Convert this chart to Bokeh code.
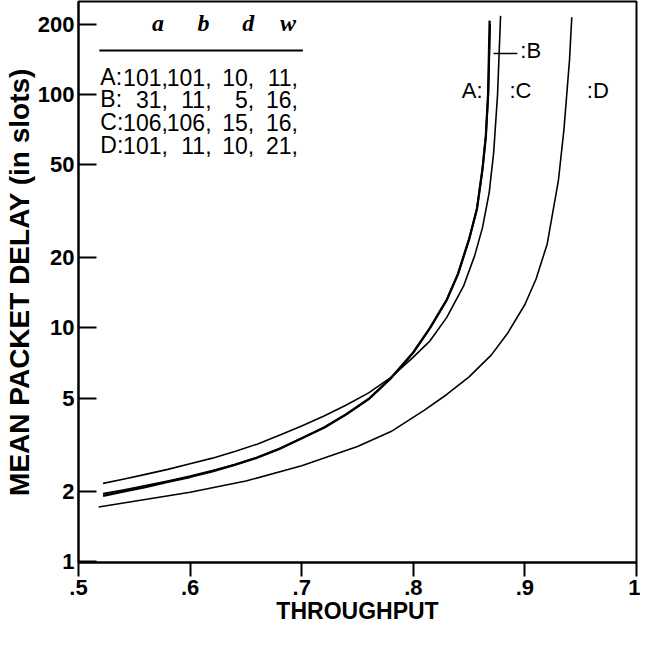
from bokeh.plotting import figure
from bokeh.models import FixedTicker, Label
from bokeh.embed import file_html
from bokeh.resources import INLINE

# ---------------- data ----------------
x_ticks = [0.5, 0.6, 0.7, 0.8, 0.9, 1.0]
x_tick_labels = [".5", ".6", ".7", ".8", ".9", "1"]
y_ticks = [1, 2, 5, 10, 20, 50, 100, 200]
y_tick_labels = ["1", "2", "5", "10", "20", "50", "100", "200"]

a_thr = [0.522, 0.54, 0.56, 0.58, 0.60, 0.62, 0.64, 0.66, 0.68, 0.70, 0.72, 0.74,
         0.76, 0.78, 0.80, 0.815, 0.83, 0.84, 0.85, 0.857, 0.862, 0.865, 0.867, 0.8684]
a_delay = [1.91, 1.99, 2.08, 2.19, 2.30, 2.43, 2.59, 2.78, 3.03, 3.37, 3.74, 4.27,
           4.96, 6.10, 7.85, 10.0, 13.2, 17.0, 24.0, 32.3, 47.9, 66.1, 100.0, 207.0]

b_thr = [0.522, 0.54, 0.56, 0.58, 0.60, 0.62, 0.64, 0.66, 0.68, 0.70, 0.72, 0.74,
         0.76, 0.78, 0.80, 0.815, 0.83, 0.84, 0.85, 0.857, 0.862, 0.865, 0.8672, 0.8688]
b_delay = [1.95, 2.02, 2.11, 2.21, 2.32, 2.45, 2.60, 2.79, 3.04, 3.37, 3.75, 4.27,
           4.96, 6.10, 7.86, 10.0, 13.2, 17.0, 24.0, 32.3, 48.0, 66.5, 101.0, 200.0]

c_thr = [0.522, 0.54, 0.56, 0.58, 0.60, 0.62, 0.64, 0.66, 0.68, 0.70, 0.72, 0.74,
         0.76, 0.78, 0.80, 0.815, 0.83, 0.845, 0.855, 0.862, 0.868, 0.872, 0.8755, 0.8782]
c_delay = [2.16, 2.25, 2.36, 2.48, 2.62, 2.77, 2.96, 3.18, 3.47, 3.80, 4.20, 4.68,
           5.27, 6.14, 7.50, 8.81, 11.1, 15.1, 20.4, 26.9, 38.0, 56.2, 100.0, 217.0]

d_thr = [0.518, 0.55, 0.60, 0.65, 0.70, 0.75, 0.78, 0.81, 0.83, 0.85, 0.87, 0.885,
         0.90, 0.91, 0.92, 0.93, 0.935, 0.94, 0.942]
d_delay = [1.71, 1.81, 1.98, 2.21, 2.57, 3.11, 3.60, 4.45, 5.19, 6.17, 7.67, 9.57,
           12.6, 16.2, 22.9, 42.7, 70.8, 141.0, 214.0]

series_names = ["A", "B", "C", "D"]
param_a = [101, 31, 106, 101]
param_b = [101, 11, 106, 11]
param_d = [10, 5, 15, 10]
param_w = [11, 16, 16, 21]
header = ["a", "b", "d", "w"]

# --------------- layout helpers (page px -> data coords, annotations only) ---------------
def dx(xp):
    return 0.5 + (xp - 82) / 1124.0

def dy(yp):
    return 10 ** ((569 - yp) / 233.5)

SANS = "Liberation Sans"
SERIF = "Liberation Serif"

p = figure(width=640, height=629, y_axis_type="log",
           x_range=(0.5, 1.0), y_range=(0.99, 250),
           output_backend="svg", toolbar_location=None,
           min_border_left=74, min_border_right=4,
           min_border_top=1, min_border_bottom=67)

p.xgrid.visible = False
p.ygrid.visible = False
p.outline_line_color = "black"
p.outline_line_width = 2
p.outline_line_alpha = 1.0
p.background_fill_color = "white"
p.border_fill_color = "white"

# x axis
xa = p.xaxis[0]
xa.ticker = FixedTicker(ticks=x_ticks)
xa.major_label_overrides = dict(zip(x_ticks, x_tick_labels))
xa.major_tick_in = 0
xa.major_tick_out = 14
xa.minor_tick_in = 0
xa.minor_tick_out = 0
xa.axis_line_width = 2
xa.major_tick_line_width = 2
xa.major_label_text_font = SANS
xa.major_label_text_font_size = "22px"
xa.major_label_text_font_style = "bold"
xa.major_label_text_color = "black"
xa.major_label_standoff = 3
xa.axis_label = "THROUGHPUT"
xa.axis_label_text_font = SANS
xa.axis_label_text_font_size = "23px"
xa.axis_label_text_font_style = "bold"
xa.axis_label_text_color = "black"
xa.axis_label_standoff = 0

# y axis
ya = p.yaxis[0]
ya.ticker = FixedTicker(ticks=y_ticks, minor_ticks=[])
ya.major_label_overrides = dict(zip(y_ticks, y_tick_labels))
ya.major_tick_in = 18
ya.major_tick_out = 0
ya.minor_tick_in = 0
ya.minor_tick_out = 0
ya.axis_line_width = 2
ya.major_tick_line_width = 2
ya.major_label_text_font = SANS
ya.major_label_text_font_size = "22px"
ya.major_label_text_font_style = "bold"
ya.major_label_text_color = "black"
ya.major_label_standoff = 4
ya.axis_label = "MEAN PACKET DELAY (in slots)"
ya.axis_label_text_font = SANS
ya.axis_label_text_font_size = "28px"
ya.axis_label_text_font_style = "bold"
ya.axis_label_text_color = "black"
ya.axis_label_standoff = 0

# curves
p.line(a_thr, a_delay, line_color="black", line_width=2.3, line_join="round")
p.line(b_thr, b_delay, line_color="black", line_width=1.9, line_join="round")
p.line(c_thr, c_delay, line_color="black", line_width=1.6, line_join="round")
p.line(d_thr, d_delay, line_color="black", line_width=1.6, line_join="round")

# text helper
def add_label(text, xp, yp, align, size="22px", font=SANS, style="normal"):
    p.add_layout(Label(x=dx(xp), y=dy(yp), text=text, text_align=align,
                       text_baseline="middle", text_font=font,
                       text_font_size=size, text_font_style=style,
                       text_color="black"))

# curve labels
add_label("A:", 489, 98, "right")
add_label(":C", 516, 98, "left")
add_label(":D", 594, 98, "left")
add_label(":B", 527, 58, "left")
p.segment(x0=[dx(500)], y0=[dy(61)], x1=[dx(524)], y1=[dy(61)],
          line_color="black", line_width=1.5)

# parameter table
header_x = [162, 208, 253, 293]
for h, hx in zip(header, header_x):
    add_label(h, hx, 31, "center", size="24px", font=SERIF, style="bold italic")
p.segment(x0=[dx(103)], y0=[dy(58)], x1=[dx(308)], y1=[dy(58)],
          line_color="black", line_width=2)

row_y = [85, 107, 130, 153]
col_x = [172, 216, 259, 303]
for i, name in enumerate(series_names):
    add_label(name + ":", 104, row_y[i], "left", size="23px")
    vals = [param_a[i], param_b[i], param_d[i], param_w[i]]
    for v, cx in zip(vals, col_x):
        add_label(f"{v},", cx, row_y[i], "right", size="23px")

open("out.html", "w").write(file_html(p, INLINE))
